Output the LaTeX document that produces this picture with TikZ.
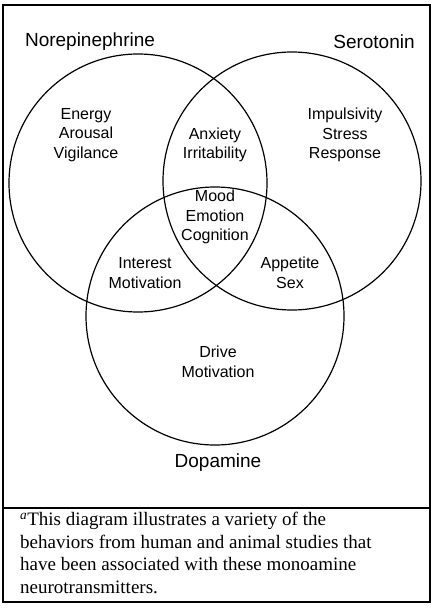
\documentclass[tikz,border=0pt]{standalone}
\usepackage{fontspec}
\setmainfont{Liberation Serif}
\setsansfont{Liberation Sans}
\begin{document}
\begin{tikzpicture}[x=1pt,y=-1pt,
  ring/.style={draw,line width=1.2pt},
  title/.style={font=\sffamily\fontsize{19}{22}\selectfont},
  inner/.style={font=\sffamily\fontsize{16}{19.5}\selectfont,align=center},
  frame/.style={draw,line width=1.6pt}]
\useasboundingbox (0,0) rectangle (438,610);
\draw[frame] (3,5) rectangle (430,602);
\draw[frame] (3,508) -- (430,508);
\node[ring,circle,minimum size=258pt,inner sep=0pt] (ne) at (138,183) {};
\node[ring,circle,minimum size=258pt,inner sep=0pt] (se) at (292,181) {};
\node[ring,circle,minimum size=258pt,inner sep=0pt] (do) at (215,316) {};
\node[title] (lne) at (90,42) {Norepinephrine};
\node[title] (lse) at (374,42) {Serotonin};
\node[title] (ldo) at (218,463) {Dopamine};
\node[inner] (t1) at (86,135) {Energy\\Arousal\\Vigilance};
\node[inner] (t2) at (215,145) {Anxiety\\Irritability};
\node[inner] (t3) at (345,135) {Impulsivity\\Stress\\Response};
\node[inner] (t4) at (215,217) {Mood\\Emotion\\Cognition};
\node[inner] (t5) at (145,273) {Interest\\Motivation};
\node[inner] (t6) at (290,273) {Appetite\\Sex};
\node[inner] (t7) at (218,362) {Drive\\Motivation};
\node[anchor=north west,align=left,font=\fontsize{19}{22.5}\selectfont,inner sep=0pt] (fn) at (20,512)
 {\textsuperscript{\itshape a}This diagram illustrates a variety of the\\
  behaviors from human and animal studies that\\
  have been associated with these monoamine\\
  neurotransmitters.};
\end{tikzpicture}
\end{document}
